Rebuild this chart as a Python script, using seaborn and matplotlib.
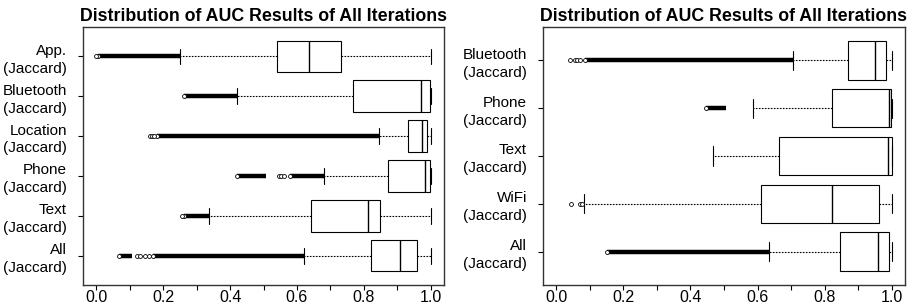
import numpy as np
import pandas as pd
import matplotlib
matplotlib.use("Agg")
import matplotlib.pyplot as plt
import seaborn as sns

TITLE = "Distribution of AUC Results of All Iterations"

# ---- left panel ----
left_labels = ["App.\n(Jaccard)", "Bluetooth\n(Jaccard)", "Location\n(Jaccard)",
               "Phone\n(Jaccard)", "Text\n(Jaccard)", "All\n(Jaccard)"]
left_whislo = [0.251, 0.422, 0.846, 0.682, 0.336, 0.621]
left_q1 = [0.539, 0.767, 0.933, 0.872, 0.643, 0.823]
left_med = [0.637, 0.970, 0.973, 0.984, 0.812, 0.909]
left_q3 = [0.733, 0.998, 0.990, 0.999, 0.849, 0.958]
left_whishi = [1.0, 1.0, 1.0, 1.0, 1.0, 1.0]
# dense runs of outliers (start, end) and isolated outliers
left_bands = [[(0.006, 0.251)], [(0.263, 0.422)], [(0.180, 0.846)],
              [(0.420, 0.507), (0.578, 0.682)], [(0.263, 0.336)],
              [(0.069, 0.108), (0.168, 0.621)]]
left_points = [[0.0], [], [0.160, 0.166, 0.172], [0.545, 0.553, 0.562],
               [0.256], [0.122, 0.130, 0.144, 0.157]]

# ---- right panel ----
right_labels = ["Bluetooth\n(Jaccard)", "Phone\n(Jaccard)", "Text\n(Jaccard)",
                "WiFi\n(Jaccard)", "All\n(Jaccard)"]
right_whislo = [0.707, 0.586, 0.467, 0.081, 0.634]
right_q1 = [0.871, 0.823, 0.665, 0.609, 0.847]
right_med = [0.951, 0.991, 0.988, 0.823, 0.960]
right_q3 = [0.982, 0.997, 1.0, 0.963, 0.991]
right_whishi = [1.0, 1.0, 1.0, 1.0, 1.0]
right_bands = [[(0.085, 0.707)], [(0.447, 0.505)], [], [], [(0.151, 0.634)]]
right_points = [[0.040, 0.055, 0.062, 0.069], [], [], [0.044, 0.069, 0.075], []]

x_ticks = [0.0, 0.1, 0.2, 0.3, 0.4, 0.5, 0.6, 0.7, 0.8, 0.9, 1.0]
x_ticklabels = ["0.0", "", "0.2", "", "0.4", "", "0.6", "", "0.8", "", "1.0"]

sns.set_style("ticks")
plt.rcParams["font.family"] = ["Liberation Sans", "DejaVu Sans"]
plt.rcParams["text.color"] = "black"
plt.rcParams["xtick.color"] = "black"
plt.rcParams["ytick.color"] = "black"
plt.rcParams["axes.labelcolor"] = "black"


def five_number_frame(labels, lo, q1, med, q3, hi):
    rows = []
    for lab, a, b, c, d, e in zip(labels, lo, q1, med, q3, hi):
        for v in (a, b, c, d, e):
            rows.append({"cat": lab, "auc": v})
    return pd.DataFrame(rows)


def draw_panel(ax, labels, lo, q1, med, q3, hi, bands, points):
    df = five_number_frame(labels, lo, q1, med, q3, hi)
    sns.boxplot(data=df, x="auc", y="cat", order=labels, orient="h", ax=ax,
                whis=(0, 100), width=0.8, color="white", saturation=1,
                linecolor="black", linewidth=0.8, fliersize=0,
                whiskerprops={"linestyle": (0, (1.5, 1.2)), "linewidth": 0.8},
                capprops={"linewidth": 0.8},
                medianprops={"linewidth": 1.0})
    for i, runs in enumerate(bands):
        for (s, e) in runs:
            ax.hlines(i, s, e, color="black", linewidth=3.2, zorder=3)
            ax.plot([s], [i], "o", mfc="white", mec="black", ms=2.8, mew=0.6, zorder=4)
    for i, pts in enumerate(points):
        if pts:
            ax.plot(pts, [i] * len(pts), "o", mfc="white", mec="black",
                    ms=2.8, mew=0.6, linestyle="none", zorder=4)
    n = len(labels)
    ax.set_xlim(-0.04, 1.04)
    ax.set_ylim(n - 1 + 0.5 + 0.04 * n, -0.5 - 0.04 * n)
    ax.set_xticks(x_ticks)
    ax.set_xticklabels(x_ticklabels)
    ax.set_yticks(range(n))
    ax.set_yticklabels(labels, fontsize=11, linespacing=1.35)
    ax.tick_params(axis="x", which="both", length=3.5, width=0.8, labelsize=11.5, pad=0,
                   colors="black")
    ax.tick_params(axis="y", length=3.5, width=0.8, pad=8, colors="black")
    ax.set_xlabel("")
    ax.set_ylabel("")
    for sp in ax.spines.values():
        sp.set_visible(True)
        sp.set_color("#333333")
        sp.set_linewidth(1.0)
    ax.set_title(TITLE, fontsize=12.8, fontweight="bold", pad=4, color="black")


fig = plt.figure(figsize=(9.09, 3.04), dpi=100)
axL = fig.add_axes([83 / 909, 1 - 285 / 304, (444 - 83) / 909, (285 - 27) / 304])
axR = fig.add_axes([543 / 909, 1 - 285 / 304, (905 - 543) / 909, (285 - 27) / 304])

draw_panel(axL, left_labels, left_whislo, left_q1, left_med, left_q3, left_whishi,
           left_bands, left_points)
draw_panel(axR, right_labels, right_whislo, right_q1, right_med, right_q3, right_whishi,
           right_bands, right_points)

fig.savefig("out.png", dpi=100)
